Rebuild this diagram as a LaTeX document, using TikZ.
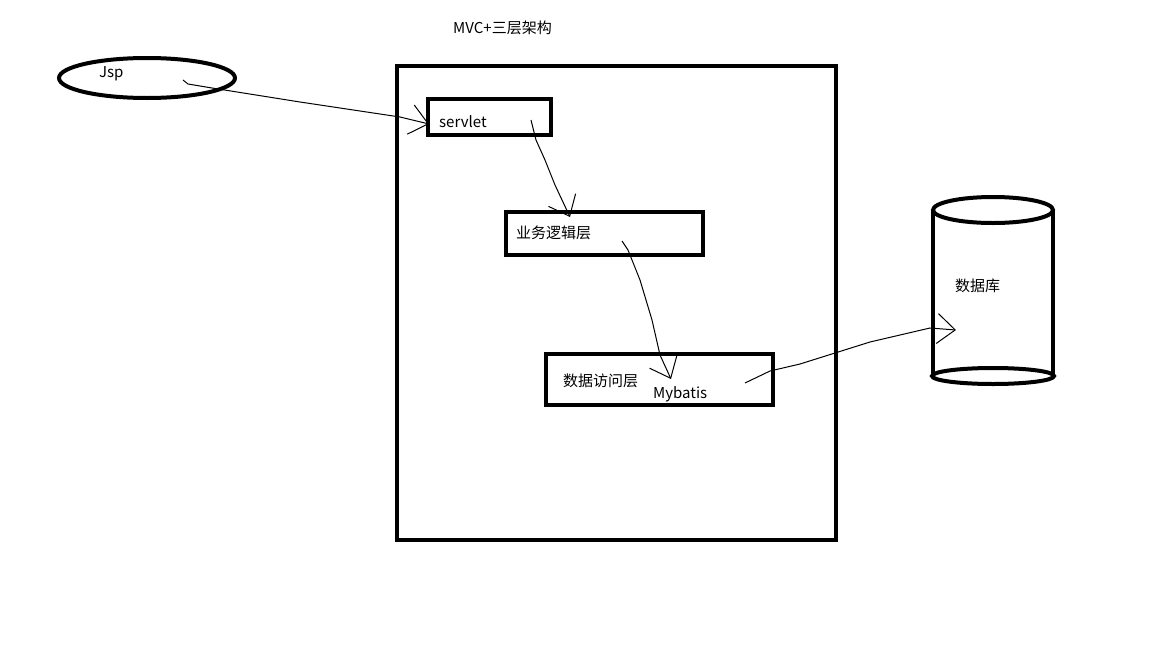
\documentclass[tikz,border=0pt]{standalone}
\usepackage{fontspec}
\setmainfont{Noto Sans CJK SC}
\usetikzlibrary{shapes.geometric,arrows.meta}
\tikzset{
  txt/.style={inner sep=0pt,anchor=west,font=\fontsize{15}{17}\selectfont},
  wire/.style={draw=black,line width=1pt,-{Straight Barb[length=18pt,width=30pt,line width=1pt]}},
}
\begin{document}
\begin{tikzpicture}[x=1pt,y=-1pt]
\useasboundingbox[fill=white] (0,0) rectangle (1152,648);
% title
\node[txt] (title) at (453,28) {MVC+三层架构};
% Jsp ellipse
\node[ellipse,draw,line width=4pt,minimum width=176pt,minimum height=40pt,inner sep=0pt] (jsp) at (147,78) {};
\node[txt] (jsptxt) at (99,74) {Jsp};
% outer container
\draw[line width=4pt] (397,66) rectangle (836,540);
\node[draw,line width=4pt,minimum width=123pt,minimum height=36pt,inner sep=0pt] (servlet) at (489.5,117) {};
\node[txt] (servlettxt) at (439,122) {servlet};
\node[draw,line width=4pt,minimum width=197pt,minimum height=43pt,inner sep=0pt] (biz) at (604.5,233.5) {};
\node[txt] (biztxt) at (516,233) {业务逻辑层};
\node[draw,line width=4pt,minimum width=227pt,minimum height=51pt,inner sep=0pt] (dao) at (659.5,379.5) {};
\node[txt] (daotxt) at (563,381) {数据访问层};
\node[txt] (mybatis) at (653,394) {Mybatis};
% database cylinder
\draw[line width=4pt] (993,210) ellipse [x radius=60pt,y radius=13pt];
\draw[line width=4pt] (933,210) -- (933,376);
\draw[line width=4pt] (1053,210) -- (1053,376);
\draw[line width=4pt] (993,376) ellipse [x radius=61pt,y radius=8pt];
\node[minimum width=120pt,minimum height=170pt] (db) at (993,293) {};
\node[txt] (dbtxt) at (955,286) {数据库};
% connectors
\coordinate (a1) at (183,80);
\coordinate (a2) at (429,124);
\draw[wire] (a1) -- (188,84) -- (212,88) -- (300,102) -- (400,117) -- (a2);
\coordinate (b1) at (531,120);
\coordinate (b2) at (570,217);
\draw[wire] (b1) -- (536,140) -- (545,160) -- (555,185) -- (b2);
\coordinate (c1) at (622,241);
\coordinate (c2) at (671,379);
\draw[wire] (c1) -- (628,250) -- (640,280) -- (652,320) -- (660,355) -- (c2);
\coordinate (d1) at (745,383);
\coordinate (d2) at (956,330);
\draw[wire] (d1) -- (770,371) -- (800,364) -- (870,342) -- (930,328) -- (d2);
\end{tikzpicture}
\end{document}
